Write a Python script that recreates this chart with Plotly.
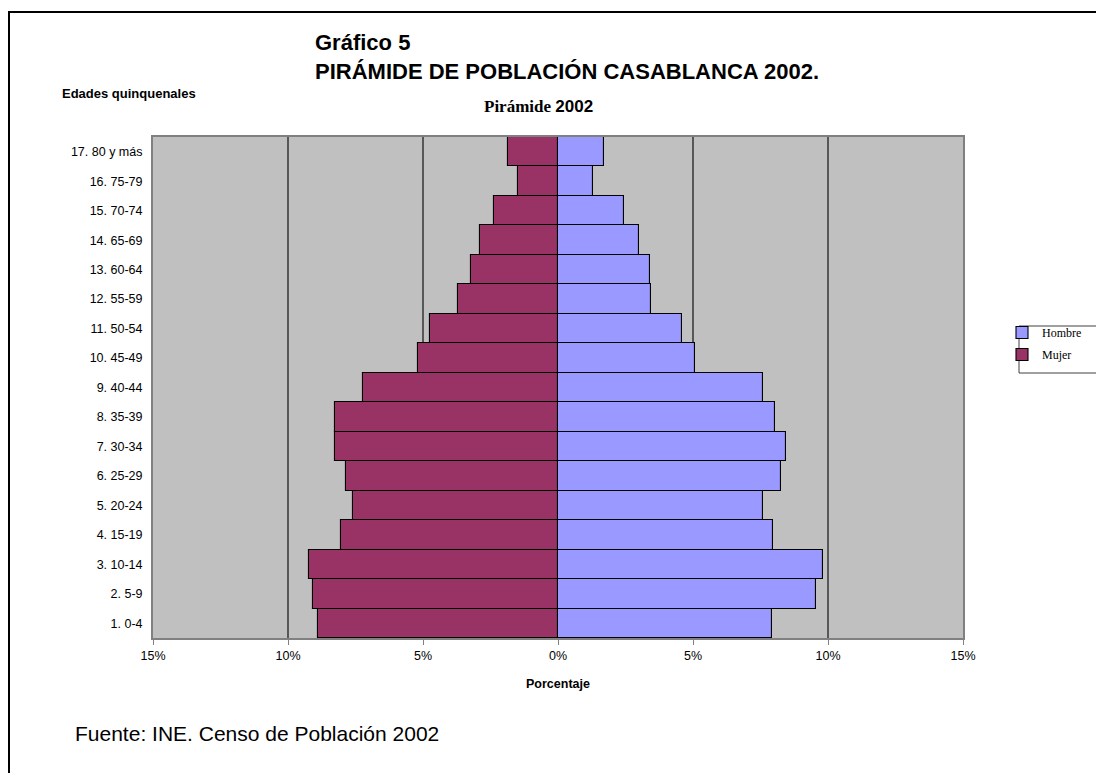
import plotly.graph_objects as go

categories = ["1. 0-4", "2. 5-9", "3. 10-14", "4. 15-19", "5. 20-24", "6. 25-29",
              "7. 30-34", "8. 35-39", "9. 40-44", "10. 45-49", "11. 50-54",
              "12. 55-59", "13. 60-64", "14. 65-69", "15. 70-74", "16. 75-79",
              "17. 80 y más"]
hombre = [7.93, 9.56, 9.80, 7.97, 7.59, 8.26, 8.43, 8.05, 7.59, 5.09, 4.60,
          3.46, 3.40, 3.01, 2.44, 1.28, 1.70]
mujer = [8.88, 9.09, 9.21, 8.03, 7.58, 7.87, 8.26, 8.26, 7.21, 5.20, 4.73,
         3.71, 3.22, 2.88, 2.37, 1.47, 1.87]
tick_vals = [-15, -10, -5, 0, 5, 10, 15]
tick_text = ["15%", "10%", "5%", "0%", "5%", "10%", "15%"]

W, H = 1104, 773
OFF = 8  # page body margin
# plot area in page pixels: x 153..963, y 137..638
L = 153 - OFF
T = 137 - OFF
R = W - (963 - OFF)
B = H - (638 - OFF)
pw, ph = W - L - R, H - T - B


def px(x):  # page pixel -> paper
    return (x - 153) / pw


def py(y):
    return (638 - y) / ph


SANS = "Liberation Sans, Arial"
SERIF = "Liberation Serif, Times New Roman"

fig = go.Figure()
fig.add_trace(go.Bar(
    y=categories, x=hombre, orientation="h", name="Hombre", legendgroup="h",
    marker=dict(color="#9999FF", line=dict(color="#000000", width=1.1)),
    hovertemplate="%{y}: %{x:.2f}%<extra>Hombre</extra>"))
fig.add_trace(go.Bar(
    y=categories, x=[-v for v in mujer], orientation="h", name="Mujer",
    legendgroup="m", customdata=mujer,
    marker=dict(color="#993366", line=dict(color="#000000", width=1.1)),
    hovertemplate="%{y}: %{customdata:.2f}%<extra>Mujer</extra>"))

fig.update_layout(
    width=W, height=H,
    margin=dict(l=L, r=R, t=T, b=B, autoexpand=False),
    paper_bgcolor="white", plot_bgcolor="#C0C0C0",
    barmode="relative", bargap=0,
    font=dict(family=SANS, size=12, color="black"),
    showlegend=True,
    legend=dict(x=px(1002), y=py(318), xanchor="left", yanchor="top",
                bgcolor="rgba(0,0,0,0)", borderwidth=0,
                font=dict(family=SERIF, size=12),
                traceorder="grouped", tracegroupgap=3, itemwidth=30),
    xaxis=dict(range=[-15, 15], tickvals=tick_vals, ticktext=tick_text,
               showgrid=False, zeroline=False,
               ticks="outside", ticklen=5, tickcolor="#808080",
               showline=True, linecolor="#808080", linewidth=2, mirror=True,
               tickfont=dict(family=SANS, size=12.5),
               title=dict(text="<b>Porcentaje</b>", standoff=17,
                          font=dict(family=SANS, size=12.5))),
    yaxis=dict(categoryorder="array", categoryarray=categories,
               showgrid=False, zeroline=False,
               ticks="outside", ticklen=6, tickcolor="rgba(0,0,0,0)",
               showline=True, linecolor="#808080", linewidth=2, mirror=True,
               tickfont=dict(family=SANS, size=12.5)),
)

# vertical gridlines at ±5, ±10 (below bars)
for v in [-10, -5, 5, 10]:
    fig.add_shape(type="line", xref="x", yref="paper", x0=v, x1=v, y0=0, y1=1,
                  line=dict(color="#111111", width=1.2), layer="below")

# outer frame
fig.add_shape(type="rect", xref="paper", yref="paper",
              x0=px(9), x1=px(1125), y0=py(12), y1=py(800),
              line=dict(color="black", width=2), layer="above")

# legend box
fig.add_shape(type="rect", xref="paper", yref="paper",
              x0=px(1019), x1=px(1125), y0=py(326), y1=py(373),
              line=dict(color="#404040", width=1), fillcolor="white",
              layer="below")

fig.add_annotation(text="<b>Gráfico 5</b>", xref="paper", yref="paper",
                   x=px(313), y=py(42), xanchor="left", yanchor="middle",
                   showarrow=False, font=dict(family=SANS, size=22))
fig.add_annotation(text="<b>PIRÁMIDE DE POBLACIÓN CASABLANCA 2002.</b>",
                   xref="paper", yref="paper",
                   x=px(313), y=py(72), xanchor="left", yanchor="middle",
                   showarrow=False, font=dict(family=SANS, size=22))
fig.add_annotation(text="<b>Pirámide <span style='font-family:Liberation Sans, Arial'>2002</span></b>",
                   xref="paper", yref="paper",
                   x=px(538), y=py(107), xanchor="center", yanchor="middle",
                   showarrow=False, font=dict(family=SERIF, size=17))
fig.add_annotation(text="<b>Edades quinquenales</b>", xref="paper", yref="paper",
                   x=px(60), y=py(94), xanchor="left", yanchor="middle",
                   showarrow=False, font=dict(family=SANS, size=13))
fig.add_annotation(text="Fuente: INE. Censo de Población 2002", xref="paper", yref="paper",
                   x=px(73), y=py(733), xanchor="left", yanchor="middle",
                   showarrow=False, font=dict(family=SANS, size=21))

fig.write_html("out.html")
